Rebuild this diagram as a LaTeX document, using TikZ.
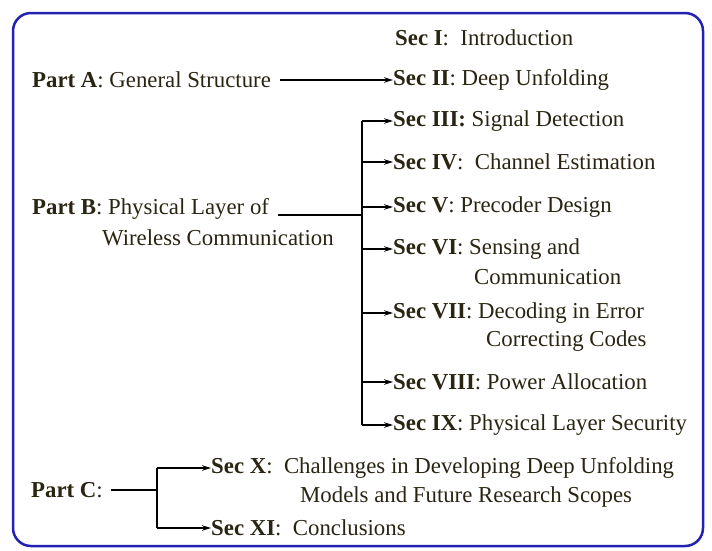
\documentclass[tikz,border=0pt]{standalone}
\usepackage{fontspec}
\setmainfont{Liberation Serif}
\usetikzlibrary{arrows.meta}
\definecolor{txt}{RGB}{42,36,18}
\definecolor{frame}{RGB}{34,34,178}
\tikzset{
  lbl/.style={anchor=west, inner sep=0pt, text=txt, font=\fontsize{22.8}{27}\selectfont},
  conn/.style={draw=black, line width=1.4pt},
  arr/.style={conn, -{Stealth[length=9pt,width=5.5pt]}},
}
\begin{document}
\begin{tikzpicture}[x=1pt,y=-1pt]
\useasboundingbox (0,0) rectangle (712,550);
\draw[frame, line width=2.5pt, rounded corners=18pt] (13,13) rectangle (703,546);
% Parts
\node[lbl] (pa) at (32,80) {\textbf{Part A}: General Structure};
\node[lbl] (pb) at (32,209) {\textbf{Part B}: Physical Layer of};
\node[lbl] (pb2) at (102,238) {Wireless Communication};
\node[lbl] (pc) at (31,490) {\textbf{Part C}:};
% Sections
\node[lbl] (s1) at (395,38) {\textbf{Sec I}:~ Introduction};
\node[lbl] (s2) at (393,80) {\textbf{Sec II}: Deep Unfolding};
\node[lbl] (s3) at (393,121) {\textbf{Sec III:} Signal Detection};
\node[lbl] (s4) at (393,162) {\textbf{Sec IV}:~ Channel Estimation};
\node[lbl] (s5) at (393,207) {\textbf{Sec V}: Precoder Design};
\node[lbl] (s6) at (393,249) {\textbf{Sec VI}: Sensing and};
\node[lbl] (s6b) at (474,277) {Communication};
\node[lbl] (s7) at (393,313) {\textbf{Sec VII}: Decoding in Error};
\node[lbl] (s7b) at (486,341) {Correcting Codes};
\node[lbl] (s8) at (393,382) {\textbf{Sec VIII}: Power Allocation};
\node[lbl] (s9) at (393,425) {\textbf{Sec IX}: Physical Layer Security};
\node[lbl] (s10) at (211,468) {\textbf{Sec X}:~ Challenges in Developing Deep Unfolding};
\node[lbl] (s10b) at (300,497) {Models and Future Research Scopes};
\node[lbl] (s11) at (211,528) {\textbf{Sec XI}:~ Conclusions};
% junction coordinates
\coordinate (bj) at (362,215);
\coordinate (cj) at (157,490);
% Part A
\draw[arr] ([xshift=9pt]pa.east |- s2.west) -- (s2.west);
% Part B
\draw[conn] ([xshift=9pt]pb.east |- bj) -- (bj);
\draw[conn] (bj |- s3.west) -- (bj |- s9.west);
\foreach \s in {s3,s4,s5,s6,s7,s8,s9}
  \draw[arr] (bj |- \s.west) -- (\s.west);
% Part C
\draw[conn] ([xshift=8pt]pc.east) -- (cj);
\draw[conn] (cj |- s10.west) -- (cj |- s11.west);
\draw[arr] (cj |- s10.west) -- (s10.west);
\draw[arr] (cj |- s11.west) -- (s11.west);
\end{tikzpicture}
\end{document}
